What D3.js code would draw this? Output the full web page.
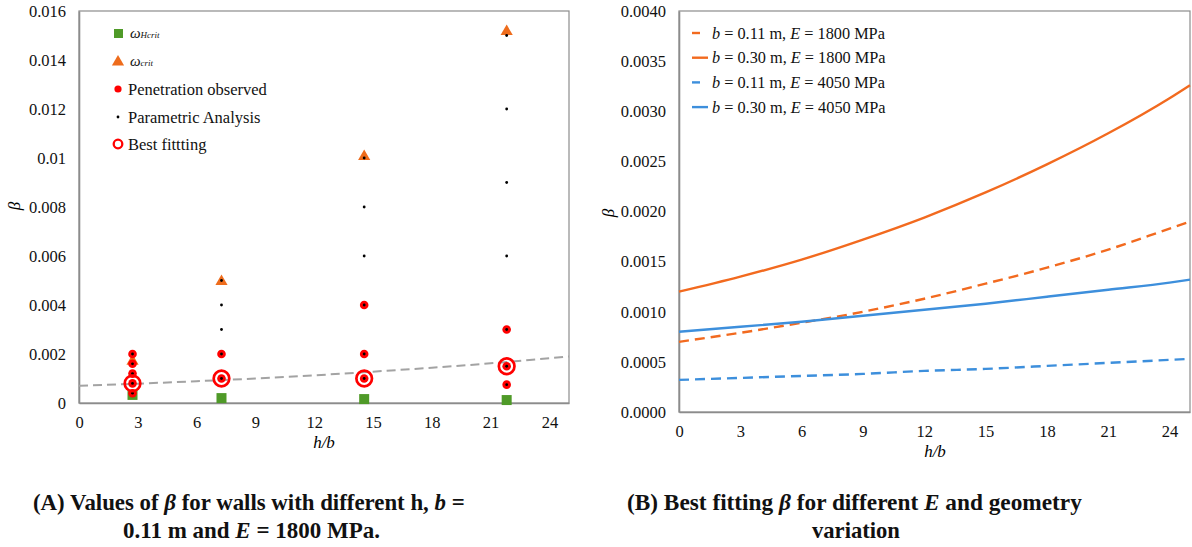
<!DOCTYPE html>
<html>
<head>
<meta charset="utf-8">
<script src="https://cdn.jsdelivr.net/npm/d3@7"></script>
<style>
  html, body { margin: 0; padding: 0; background: #fff; }
  svg { display: block; font-family: "Liberation Serif", "Times New Roman", serif; }
</style>
</head>
<body>
<svg id="fig" width="1192" height="547"></svg>
<script>
// ---- Panel A: beta values per wall slenderness ----
const hbValues     = [2.73, 7.27, 14.55, 21.82];
const omegaHcrit   = [0.00033, 0.0002, 0.00016, 0.00012];
const omegaCrit    = [0.00175, 0.005, 0.0101, 0.0152];
const penetration  = [
  [0.002, 0.0016, 0.0012, 0.0008, 0.0004],
  [0.002, 0.001],
  [0.004, 0.002, 0.001],
  [0.003, 0.0015, 0.00075]
];
const parametric   = [
  [0.002, 0.0016, 0.0012, 0.0008, 0.0004],
  [0.005, 0.004, 0.003, 0.002, 0.001],
  [0.01, 0.008, 0.006, 0.004, 0.002, 0.001],
  [0.015, 0.012, 0.009, 0.006, 0.003, 0.0015, 0.00075]
];
const bestFit      = [0.0008, 0.001, 0.001, 0.0015];
const yTicksA      = [0, 0.002, 0.004, 0.006, 0.008, 0.01, 0.012, 0.014, 0.016];
const xTicks       = [0, 3, 6, 9, 12, 15, 18, 21, 24];

// ---- Panel B: best-fitting beta curves ----
const curveX        = [0, 3, 6, 9, 12, 15, 18, 21, 24, 25];
const b011E1800     = [0.00070, 0.00079, 0.00089, 0.00100, 0.00113, 0.00128, 0.00144, 0.00162, 0.00183, 0.00190];
const b030E1800     = [0.00120, 0.00135, 0.00152, 0.00172, 0.00194, 0.00219, 0.00247, 0.00278, 0.00313, 0.00326];
const b011E4050     = [0.00032, 0.00034, 0.00036, 0.00038, 0.00041, 0.00043, 0.00046, 0.00049, 0.00052, 0.00053];
const b030E4050     = [0.00080, 0.00085, 0.00090, 0.00096, 0.00102, 0.00108, 0.00115, 0.00122, 0.00129, 0.00132];
const yTicksB       = [0, 0.0005, 0.001, 0.0015, 0.002, 0.0025, 0.003, 0.0035, 0.004];

const ORANGE = "#f26a1f", BLUE = "#3d8fdc", GREEN = "#4f9a28", RED = "#ff0000";
const TRI_ORANGE = "#ee6c1c", AXIS = "#8c8c8c";

const svg = d3.select("#fig");

function frame(g, x, y, w, h) {
  g.append("rect").attr("x", x).attr("y", y).attr("width", w).attr("height", h)
    .attr("fill", "none").attr("stroke", AXIS).attr("stroke-width", 1.2);
}

function axes(g, xs, ys, yTicks, yFmt, plot) {
  const xa = d3.axisBottom(xs).tickValues(xTicks).tickSize(0).tickPadding(13);
  g.append("g").attr("transform", `translate(0,${plot.y1})`).call(xa)
    .call(s => s.select(".domain").attr("stroke", AXIS).attr("stroke-width", 1.6))
    .selectAll("text").attr("font-size", 16.5).attr("fill", "#111").attr("font-family", "Liberation Serif");
  const ya = d3.axisLeft(ys).tickValues(yTicks).tickSize(0).tickPadding(13).tickFormat(yFmt);
  g.append("g").attr("transform", `translate(${plot.x0},0)`).call(ya)
    .call(s => s.select(".domain").attr("stroke", AXIS).attr("stroke-width", 1.6))
    .selectAll("text").attr("font-size", 16.5).attr("fill", "#111").attr("font-family", "Liberation Serif");
}

// ================= Panel A =================
const A = { x0: 79, x1: 569, y0: 11, y1: 403 };
const gA = svg.append("g");
const xA = d3.scaleLinear().domain([0, 25]).range([A.x0, A.x1]);
const yA = d3.scaleLinear().domain([0, 0.016]).range([A.y1, A.y0]);
frame(gA, A.x0, A.y0, A.x1 - A.x0, A.y1 - A.y0);
axes(gA, xA, yA, yTicksA, d => d === 0 ? "0" : String(+d.toFixed(3)), A);

// fitted trend (b = 0.11 m, E = 1800 MPa)
gA.append("path").datum(curveX.map((x, i) => [x, b011E1800[i]]))
  .attr("d", d3.line().x(d => xA(d[0])).y(d => yA(d[1])).curve(d3.curveMonotoneX))
  .attr("fill", "none").attr("stroke", "#a3a3a3").attr("stroke-width", 2)
  .attr("stroke-dasharray", "9,5");

const sq = 10;
gA.selectAll(".hcrit").data(hbValues).join("rect")
  .attr("x", (d) => xA(d) - sq / 2).attr("y", (d, i) => yA(omegaHcrit[i]) - sq / 2)
  .attr("width", sq).attr("height", sq).attr("fill", GREEN);

const tri = d3.symbol().type(d3.symbolTriangle).size(64);
gA.selectAll(".crit").data(hbValues).join("path")
  .attr("d", tri).attr("fill", TRI_ORANGE)
  .attr("transform", (d, i) => `translate(${xA(d)},${yA(omegaCrit[i]) + 1})`);

const pen = penetration.flatMap((vals, i) => vals.map(v => [hbValues[i], v]));
gA.selectAll(".pen").data(pen).join("circle")
  .attr("cx", d => xA(d[0])).attr("cy", d => yA(d[1])).attr("r", 4.3).attr("fill", RED);

const par = parametric.flatMap((vals, i) => vals.map(v => [hbValues[i], v]));
gA.selectAll(".par").data(par).join("circle")
  .attr("cx", d => xA(d[0])).attr("cy", d => yA(d[1])).attr("r", 1.4).attr("fill", "#000");

gA.selectAll(".best").data(hbValues).join("circle")
  .attr("cx", d => xA(d)).attr("cy", (d, i) => yA(bestFit[i])).attr("r", 7.8)
  .attr("fill", "none").attr("stroke", RED).attr("stroke-width", 2.7);

// legend A
const legA = gA.append("g").attr("font-size", 16.5).attr("fill", "#111");
legA.append("rect").attr("x", 114).attr("y", 29).attr("width", 9).attr("height", 9).attr("fill", GREEN);
legA.append("path").attr("d", tri).attr("fill", TRI_ORANGE).attr("transform", "translate(118,62)");
legA.append("circle").attr("cx", 118).attr("cy", 89).attr("r", 3.6).attr("fill", RED);
legA.append("circle").attr("cx", 118).attr("cy", 117).attr("r", 1.4).attr("fill", "#000");
legA.append("circle").attr("cx", 118).attr("cy", 144).attr("r", 4.3).attr("fill", "none")
  .attr("stroke", RED).attr("stroke-width", 2.3);
const w1 = legA.append("text").attr("x", 130).attr("y", 38).attr("font-style", "italic");
w1.append("tspan").attr("font-size", 15).text("ω");
w1.append("tspan").attr("font-size", 9).text("Hcrit");
const w2 = legA.append("text").attr("x", 130).attr("y", 66).attr("font-style", "italic");
w2.append("tspan").attr("font-size", 15).text("ω");
w2.append("tspan").attr("font-size", 9).text("crit");
legA.append("text").attr("x", 128).attr("y", 94.5).text("Penetration observed");
legA.append("text").attr("x", 128).attr("y", 122.5).text("Parametric Analysis");
legA.append("text").attr("x", 128).attr("y", 149.5).text("Best fittting");

gA.append("text").attr("transform", "translate(20,206) rotate(-90)")
  .attr("text-anchor", "middle").attr("font-style", "italic").attr("font-size", 17).text("β");
gA.append("text").attr("x", 324).attr("y", 448).attr("text-anchor", "middle")
  .attr("font-style", "italic").attr("font-size", 17).text("h/b");

// ================= Panel B =================
const B = { x0: 679, x1: 1190, y0: 11, y1: 412 };
const gB = svg.append("g");
const xB = d3.scaleLinear().domain([0, 25]).range([B.x0, B.x1]);
const yB = d3.scaleLinear().domain([0, 0.004]).range([B.y1, B.y0]);
frame(gB, B.x0, B.y0, B.x1 - B.x0, B.y1 - B.y0);
axes(gB, xB, yB, yTicksB, d => d.toFixed(4), B);

const seriesB = [
  { label: ["0.11", "1800"], vals: b011E1800, color: ORANGE, dash: true },
  { label: ["0.30", "1800"], vals: b030E1800, color: ORANGE, dash: false },
  { label: ["0.11", "4050"], vals: b011E4050, color: BLUE, dash: true },
  { label: ["0.30", "4050"], vals: b030E4050, color: BLUE, dash: false }
];
const lineB = d3.line().x(d => xB(d[0])).y(d => yB(d[1])).curve(d3.curveMonotoneX);
seriesB.forEach(s => {
  gB.append("path").datum(curveX.map((x, i) => [x, s.vals[i]]))
    .attr("d", lineB).attr("fill", "none").attr("stroke", s.color).attr("stroke-width", 2.4)
    .attr("stroke-dasharray", s.dash ? "10,6" : null);
});

const legB = gB.append("g").attr("font-size", 16.3).attr("fill", "#111");
seriesB.forEach((s, i) => {
  const y = 33 + i * 24.7;
  legB.append("line").attr("x1", 692).attr("x2", s.dash ? 700 : 708).attr("y1", y).attr("y2", y)
    .attr("stroke", s.color).attr("stroke-width", 2.4);
  const t = legB.append("text").attr("x", 712).attr("y", y + 5.5);
  t.append("tspan").attr("font-style", "italic").text("b");
  t.append("tspan").text(` = ${s.label[0]} m, `);
  t.append("tspan").attr("font-style", "italic").text("E");
  t.append("tspan").text(` = ${s.label[1]} MPa`);
});

gB.append("text").attr("transform", "translate(614,213) rotate(-90)")
  .attr("text-anchor", "middle").attr("font-style", "italic").attr("font-size", 17).text("β");
gB.append("text").attr("x", 935).attr("y", 457).attr("text-anchor", "middle")
  .attr("font-style", "italic").attr("font-size", 17).text("h/b");

// ================= Captions =================
function caption(parts, x0, x1, baseline) {
  const t = svg.append("text").attr("y", baseline).attr("font-weight", "bold")
    .attr("font-size", 23).attr("fill", "#111");
  parts.forEach(p => {
    const ts = t.append("tspan").text(p[0]);
    if (p[1]) ts.attr("font-style", "italic");
  });
  const w = t.node().getComputedTextLength();
  const sx = (x1 - x0) / w;
  t.attr("x", 0).attr("transform", `translate(${x0},0) scale(${sx},1)`);
}
caption([["(A) Values of "], ["β", true], [" for walls with different h, "], ["b", true], [" ="]], 33, 465, 510);
caption([["0.11 m and "], ["E", true], [" = 1800 MPa."]], 123, 380, 538);
caption([["(B)  Best fitting "], ["β", true], [" for different "], ["E", true], [" and geometry"]], 627, 1082, 510);
caption([["variation"]], 812, 900, 538);
</script>
</body>
</html>
